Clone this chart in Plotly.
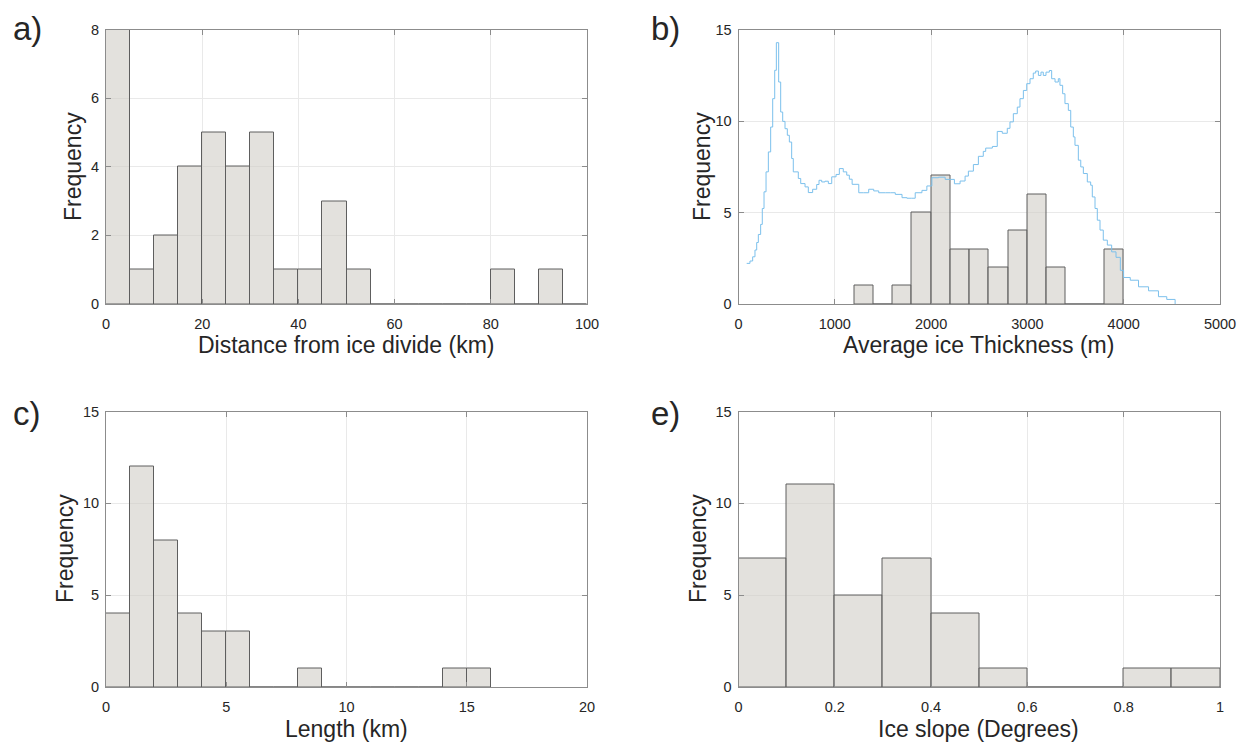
import numpy as np
import plotly.graph_objects as go

# ---------------- data ----------------
# a) distance from ice divide (km), 5 km bins
dist_edges = list(range(0, 105, 5))
dist_counts = [8, 1, 2, 4, 5, 4, 5, 1, 1, 3, 1, 0, 0, 0, 0, 0, 1, 0, 1, 0]

# b) average ice thickness (m), 200 m bins starting at 1200
thick_edges = list(range(1200, 4200, 200))
thick_counts = [1, 0, 1, 5, 7, 3, 3, 2, 4, 6, 2, 0, 0, 3]

# b) regional ice-thickness distribution (stair line)
dist_line_x = [85, 119, 147, 171, 189, 206, 230, 247, 265, 286, 310, 334, 355, 376,
               393, 417, 438, 459, 483, 507, 528, 552, 569, 621, 646, 691, 725, 770,
               812, 836, 864, 898, 933, 968, 1013, 1047, 1088, 1124, 1151, 1180, 1249,
               1300, 1352, 1404, 1456, 1525, 1577, 1628, 1698, 1749, 1794, 1835, 1905,
               1956, 2008, 2077, 2146, 2198, 2242, 2301, 2353, 2387, 2439, 2491, 2542,
               2567, 2636, 2687, 2739, 2791, 2819, 2854, 2895, 2923, 2958, 2993, 3027,
               3061, 3086, 3114, 3141, 3165, 3193, 3228, 3252, 3287, 3321, 3338, 3366,
               3390, 3425, 3450, 3477, 3494, 3529, 3554, 3581, 3622, 3657, 3674, 3702,
               3726, 3754, 3788, 3830, 3875, 3920, 3965, 3999, 4068, 4154, 4258, 4361,
               4447, 4534]
dist_line_y = [2.22, 2.35, 2.58, 2.95, 3.36, 3.80, 4.35, 5.22, 6.13, 7.22, 8.31, 9.67,
               11.22, 12.77, 14.28, 12.13, 10.49, 9.98, 9.58, 9.22, 8.85, 7.95, 7.22,
               6.86, 6.58, 6.40, 6.09, 6.27, 6.53, 6.76, 6.67, 6.71, 6.58, 6.95, 7.08,
               7.40, 7.22, 7.04, 6.82, 6.54, 6.08, 6.08, 6.27, 6.18, 6.08, 6.08, 6.08,
               5.99, 5.81, 5.78, 5.78, 6.08, 6.21, 6.45, 6.90, 6.93, 6.81, 6.81, 6.57,
               6.72, 6.99, 7.26, 7.62, 8.07, 8.34, 8.52, 8.61, 9.43, 9.33, 9.60, 9.95,
               10.40, 10.76, 11.22, 11.67, 12.04, 12.31, 12.62, 12.73, 12.49, 12.67,
               12.49, 12.67, 12.76, 12.31, 12.13, 12.31, 11.95, 11.49, 10.95, 10.58,
               9.67, 9.13, 8.67, 7.86, 7.49, 7.13, 6.67, 6.49, 5.85, 5.22, 4.58, 4.04,
               3.49, 3.22, 2.85, 2.55, 1.84, 1.45, 1.30, 0.94, 0.72, 0.40, 0.25, 0.0]

# c) length (km), 1 km bins
len_edges = list(range(0, 17, 1))
len_counts = [4, 12, 8, 4, 3, 3, 0, 0, 1, 0, 0, 0, 0, 0, 1, 1]

# e) ice slope (degrees), 0.1 bins
slope_edges = [0.0, 0.1, 0.2, 0.3, 0.4, 0.5, 0.6, 0.7, 0.8, 0.9, 1.0]
slope_counts = [7, 11, 5, 7, 4, 1, 0, 0, 1, 1]

# ---------------- styling ----------------
W, H = 1238, 742
FONT = "Arial, Liberation Sans, Helvetica, sans-serif"
TXT = "#262626"
AXC = "#8c8c8c"
GRID = "#e9e9e9"
BAR_FILL = "rgba(208,205,198,0.6)"
BAR_EDGE = "#5e5e5e"
LINE_C = "#7cc0ec"

# panel boxes in pixels: (left, right, top, bottom)
boxes = {
    "a": (106, 587, 29.5, 304),
    "b": (738.5, 1220, 29.5, 304),
    "c": (106, 587, 411.5, 687),
    "e": (738.5, 1220, 411.5, 687),
}


def xdom(b):
    return [b[0] / W, b[1] / W]


def ydom(b):
    return [1 - b[3] / H, 1 - b[2] / H]


def hist_trace(edges, counts, xa, ya):
    e = np.asarray(edges, dtype=float)
    centers = (e[:-1] + e[1:]) / 2
    widths = np.diff(e)
    return go.Bar(x=centers, y=counts, width=widths, xaxis=xa, yaxis=ya,
                  marker=dict(color=BAR_FILL, line=dict(color=BAR_EDGE, width=1)),
                  showlegend=False, hoverinfo="x+y")


fig = go.Figure()
fig.add_trace(hist_trace(dist_edges, dist_counts, "x", "y"))
fig.add_trace(go.Scatter(x=dist_line_x, y=dist_line_y, mode="lines",
                         line=dict(color=LINE_C, width=1, shape="hv"),
                         xaxis="x2", yaxis="y2", showlegend=False))
fig.add_trace(hist_trace(thick_edges, thick_counts, "x2", "y2"))
fig.add_trace(hist_trace(len_edges, len_counts, "x3", "y3"))
fig.add_trace(hist_trace(slope_edges, slope_counts, "x4", "y4"))


def common_axis():
    return dict(showline=True, linecolor=AXC, linewidth=1, mirror="ticks",
                ticks="inside", ticklen=5, tickcolor=AXC, tickwidth=1,
                showgrid=True, gridcolor=GRID, gridwidth=1, zeroline=False,
                tickfont=dict(family=FONT, size=14.5, color=TXT),
                automargin=False, fixedrange=True, tick0=0)


def xaxis(b, rng, dtick, anchor):
    d = common_axis()
    d.update(domain=xdom(b), range=rng, dtick=dtick, anchor=anchor,
             ticklabelstandoff=7)
    return d


def yaxis(b, rng, dtick, anchor):
    d = common_axis()
    d.update(domain=ydom(b), range=rng, dtick=dtick, anchor=anchor,
             ticklabelstandoff=3)
    return d


fig.update_layout(
    template="none",
    width=W, height=H, autosize=False,
    margin=dict(l=0, r=0, t=0, b=0, pad=0),
    paper_bgcolor="white", plot_bgcolor="white",
    bargap=0,
    xaxis=xaxis(boxes["a"], [0, 100], 20, "y"),
    yaxis=yaxis(boxes["a"], [0, 8], 2, "x"),
    xaxis2=xaxis(boxes["b"], [0, 5000], 1000, "y2"),
    yaxis2=yaxis(boxes["b"], [0, 15], 5, "x2"),
    xaxis3=xaxis(boxes["c"], [0, 20], 5, "y3"),
    yaxis3=yaxis(boxes["c"], [0, 15], 5, "x3"),
    xaxis4=xaxis(boxes["e"], [0, 1], 0.2, "y4"),
    yaxis4=yaxis(boxes["e"], [0, 15], 5, "x4"),
)

annotations = []


def text_px(x, y, s, size, angle=0, xanchor="center"):
    annotations.append(dict(x=x / W, y=1 - y / H, xref="paper", yref="paper",
                            text=s, showarrow=False, textangle=angle,
                            xanchor=xanchor, yanchor="middle",
                            font=dict(family=FONT, size=size, color=TXT)))


# panel letters
text_px(11, 29, "a)", 33, xanchor="left")
text_px(649, 29, "b)", 33, xanchor="left")
text_px(11, 413, "c)", 33, xanchor="left")
text_px(649, 413, "e)", 33, xanchor="left")

# axis titles
text_px(346, 345, "Distance from ice divide (km)", 23)
text_px(979, 345, "Average ice Thickness (m)", 23)
text_px(346, 729, "Length (km)", 23)
text_px(979, 729, "Ice slope (Degrees)", 23)
text_px(73, 167, "Frequency", 23, angle=-90)
text_px(702, 167, "Frequency", 23, angle=-90)
text_px(65, 549, "Frequency", 23, angle=-90)
text_px(698, 549, "Frequency", 23, angle=-90)

fig.update_layout(annotations=annotations)

fig.write_html("out.html")
